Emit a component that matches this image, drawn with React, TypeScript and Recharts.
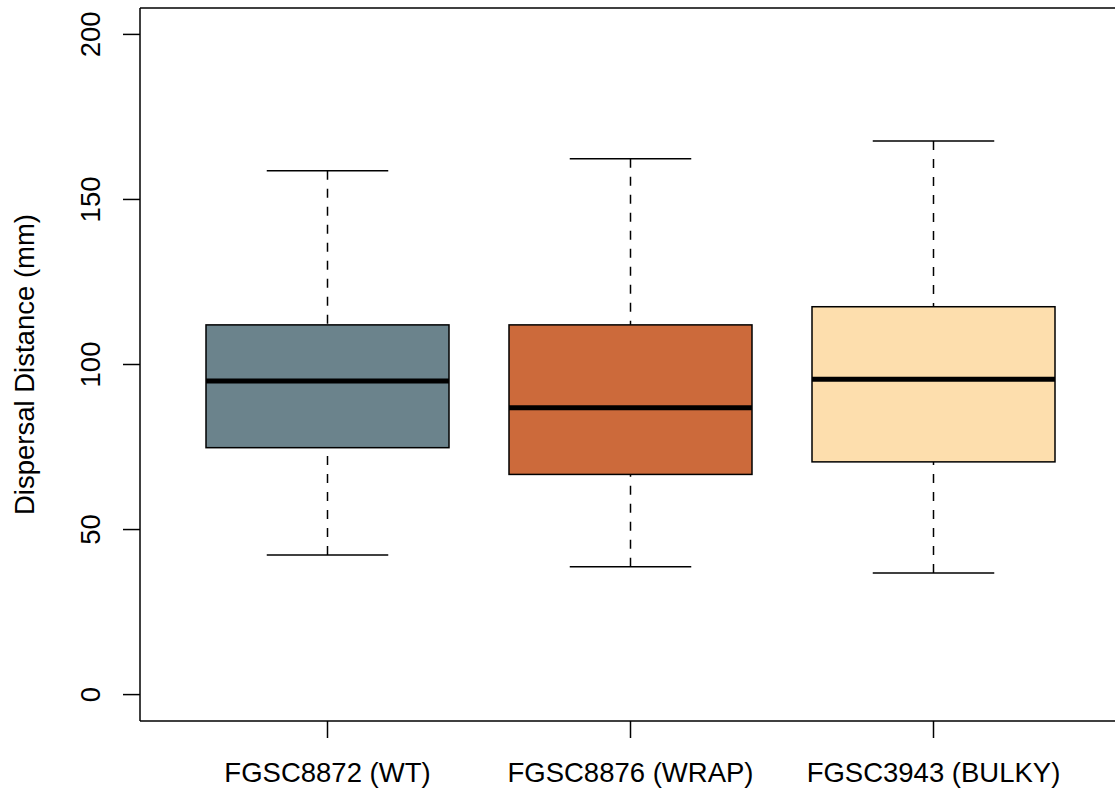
import React from 'react';
import { ComposedChart, Bar, XAxis, YAxis, ReferenceLine } from 'recharts';

// Five-number summaries of dispersal distance (mm) per strain
const strains = ['FGSC8872 (WT)', 'FGSC8876 (WRAP)', 'FGSC3943 (BULKY)'];
const whiskerLow = [42.3, 38.7, 36.8];
const lowerQuartile = [74.8, 66.7, 70.5];
const medians = [95.0, 86.9, 95.5];
const upperQuartile = [112.0, 112.0, 117.5];
const whiskerHigh = [158.7, 162.3, 167.7];
const yTicks = [0, 50, 100, 150, 200];

const boxFill = ['#6B838C', '#CC6A3B', '#FDDEAD'];

const rows = strains.map((name, i) => ({
  name,
  low: whiskerLow[i],
  q1: lowerQuartile[i],
  median: medians[i],
  q3: upperQuartile[i],
  high: whiskerHigh[i],
}));

const FONT = '"Liberation Sans", Arial, Helvetica, sans-serif';
const FONT_SIZE = 27.5;
const LW = 1.5;

// Draws one box-and-whisker glyph inside the range bar [low, high]
function BoxShape(props: any) {
  const { x, y, width, height, payload, index } = props;
  const { low, q1, median, q3, high } = payload;
  const k = height / (high - low);
  const py = (v: number) => y + (high - v) * k;
  const cx = x + width / 2;
  const capHalf = width / 4;
  return (
    <g>
      <line x1={cx} x2={cx} y1={py(high)} y2={py(q3)} stroke="#000" strokeWidth={LW} strokeDasharray="9 9" />
      <line x1={cx} x2={cx} y1={py(low)} y2={py(q1)} stroke="#000" strokeWidth={LW} strokeDasharray="9 9" />
      <line x1={cx - capHalf} x2={cx + capHalf} y1={py(high)} y2={py(high)} stroke="#000" strokeWidth={LW} />
      <line x1={cx - capHalf} x2={cx + capHalf} y1={py(low)} y2={py(low)} stroke="#000" strokeWidth={LW} />
      <rect
        x={x}
        y={py(q3)}
        width={width}
        height={py(q1) - py(q3)}
        fill={boxFill[index % boxFill.length]}
        stroke="#000"
        strokeWidth={LW}
      />
      <line x1={x} x2={x + width} y1={py(median)} y2={py(median)} stroke="#000" strokeWidth={5} />
    </g>
  );
}

function YTick(props: any) {
  const { x, y, payload } = props;
  return (
    <text
      x={x}
      y={y}
      transform={`rotate(-90, ${x}, ${y})`}
      textAnchor="middle"
      fontFamily={FONT}
      fontSize={FONT_SIZE}
      fill="#000"
    >
      {payload.value}
    </text>
  );
}

function XTick(props: any) {
  const { x, y, payload } = props;
  return (
    <text x={x} y={y} textAnchor="middle" fontFamily={FONT} fontSize={FONT_SIZE} fill="#000">
      {payload.value}
    </text>
  );
}

function YTitle(props: any) {
  const vb = props.viewBox || { x: 0, y: 8, width: 140, height: 713 };
  const tx = vb.x + 33.5;
  const ty = vb.y + vb.height / 2;
  return (
    <text
      x={tx}
      y={ty}
      transform={`rotate(-90, ${tx}, ${ty})`}
      textAnchor="middle"
      fontFamily={FONT}
      fontSize={FONT_SIZE}
      fill="#000"
    >
      Dispersal Distance (mm)
    </text>
  );
}

export default function App() {
  return (
    <div
      style={{
        position: 'absolute',
        left: 0,
        top: 0,
        width: 1115,
        height: 789,
        overflow: 'hidden',
        background: '#fff',
      }}
    >
      <ComposedChart
        width={1125}
        height={789}
        data={rows}
        margin={{ top: 8, right: 4, bottom: 0, left: 0 }}
      >
        <XAxis
          dataKey="name"
          type="category"
          height={68}
          padding={{ left: 36, right: 36 }}
          interval={0}
          tickSize={17}
          tickMargin={44}
          axisLine={{ stroke: '#000', strokeWidth: LW }}
          tickLine={{ stroke: '#000', strokeWidth: LW }}
          tick={<XTick />}
        />
        <YAxis
          type="number"
          domain={[-8, 208]}
          allowDataOverflow
          ticks={yTicks}
          interval={0}
          width={140}
          tickSize={17}
          tickMargin={23}
          axisLine={{ stroke: '#000', strokeWidth: LW }}
          tickLine={{ stroke: '#000', strokeWidth: LW }}
          tick={<YTick />}
          label={<YTitle />}
        />
        <ReferenceLine y={208} stroke="#000" strokeWidth={LW} ifOverflow="visible" />
        <Bar
          dataKey={(d: any) => [d.low, d.high]}
          barSize={243}
          shape={<BoxShape />}
          isAnimationActive={false}
        />
      </ComposedChart>
    </div>
  );
}
